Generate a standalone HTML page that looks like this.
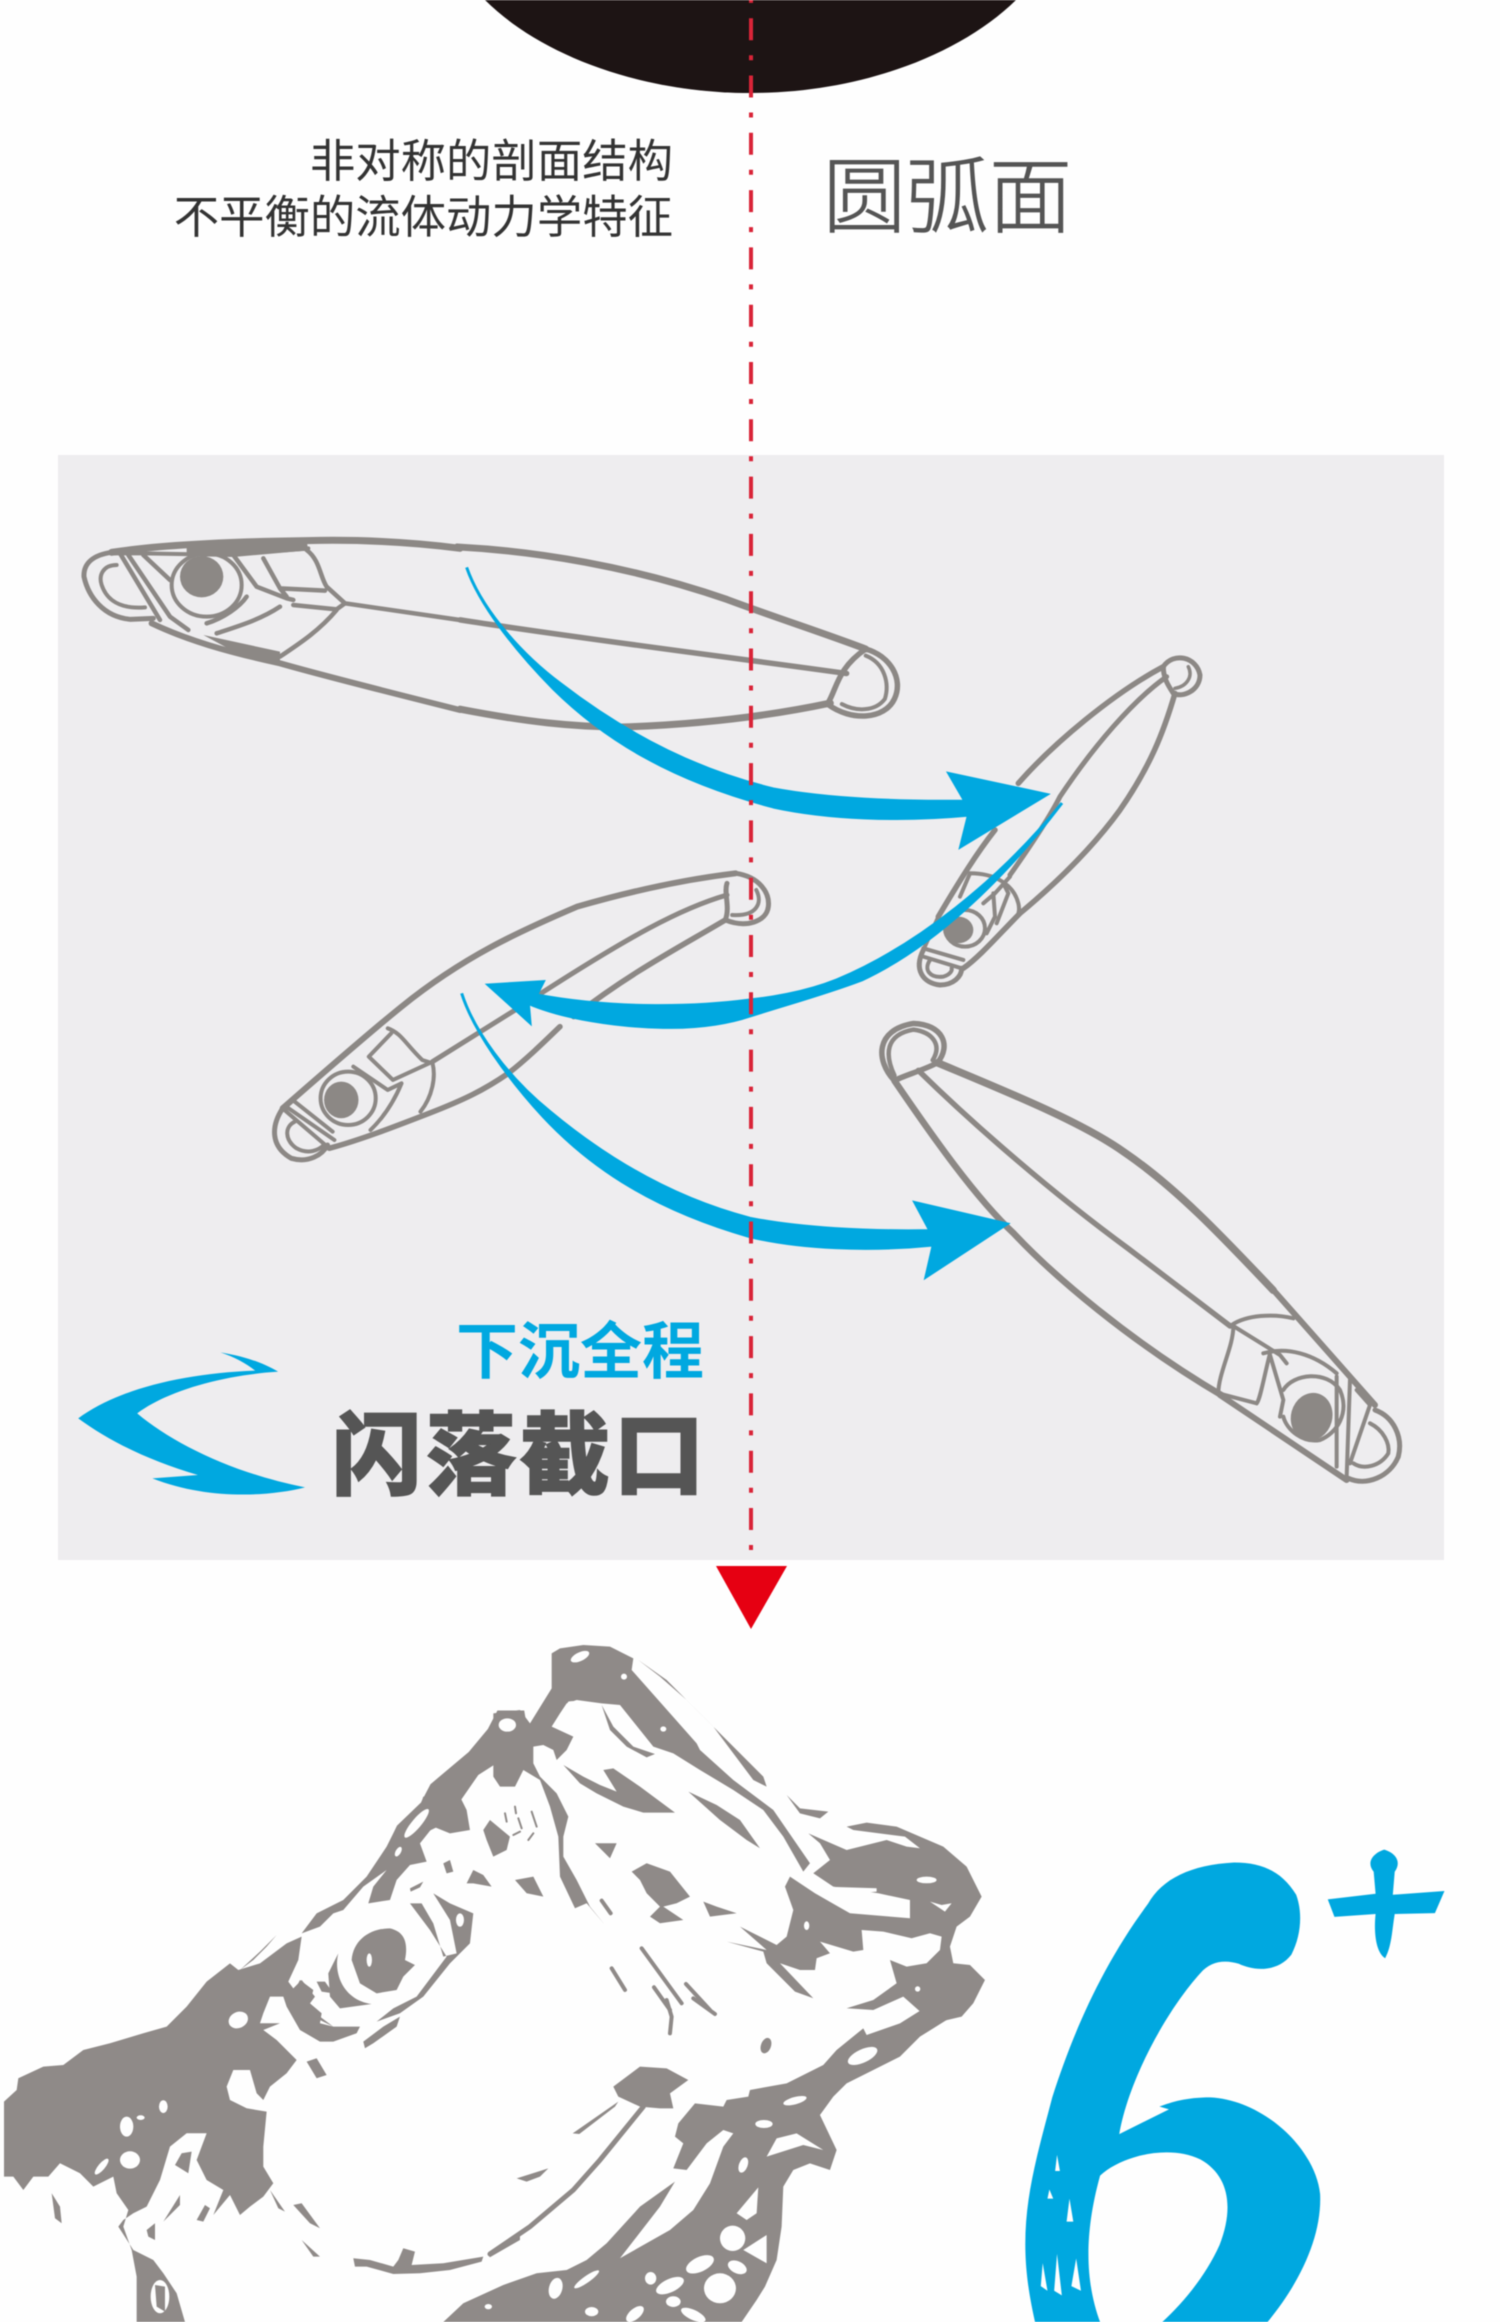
<!DOCTYPE html>
<html lang="zh"><head><meta charset="utf-8"><title>闪落截口</title>
<style>
html,body{margin:0;padding:0;background:#fefefe}
svg{display:block;filter:blur(.6px)}
path,ellipse,line{vector-effect:non-scaling-stroke}
.l path,.l ellipse{fill:none;stroke:#8c8885;stroke-linecap:round;stroke-linejoin:round}
.l .f{fill:#8c8885;stroke:none}
.fish path,.fish ellipse{fill:#8f8a88}
.fish .w{fill:#fefefe}
.fish .t{fill:none;stroke:#8f8a88;stroke-linecap:round}
text{font-family:"Liberation Sans","Noto Sans CJK SC",sans-serif}
</style></head><body>
<svg width="1500" height="2322" viewBox="0 0 1500 2322" xmlns="http://www.w3.org/2000/svg">
<rect width="1500" height="2322" fill="#fefefe"/>
<path d="M485 0C540 55 640 93 751 93 860 93 960 55 1016 0Z" fill="#1d1414"/>
<text x="673" y="177" text-anchor="end" font-size="45.4" fill="#333" font-weight="400">非对称的剖面结构</text>
<text x="673" y="233" text-anchor="end" font-size="45.4" fill="#333" font-weight="400">不平衡的流体动力学特征</text>
<text x="823" y="226" font-size="83" fill="#555" font-weight="300" stroke="#555" stroke-width=".8">圆弧面</text>
<rect x="58" y="455" width="1386" height="1105" fill="#eeedef"/>

<!-- lure 1 -->
<g class="l">
<g transform="translate(60,520) scale(.3333)">
<path style="stroke-width:5px" d="M155 97C100 105 70 130 72 170 85 230 130 290 210 298L280 295"/>
<path style="stroke-width:4px" d="M170 135C130 135 115 165 125 195 140 240 180 268 255 262"/>
<path style="stroke-width:7px" d="M155 97C300 75 500 65 740 62 880 58 1050 65 1200 85"/>
<path style="stroke-width:4px" d="M160 100L250 100 520 105 745 85"/>
<path class="f" d="M380 80L740 62 745 92 520 108 380 105Z"/>
<path style="stroke-width:4.5px" d="M180 100L300 300M205 105L330 290 385 330M250 105L330 180M520 105L590 200 680 235 700 240M610 115L660 205 680 230M740 90C780 120 780 170 800 200L855 250M660 205L795 212M700 255L830 268 855 250M855 250L1200 300M830 270C780 330 720 370 660 410M660 260C600 300 530 320 470 340M560 230C540 260 490 295 440 310"/>
<ellipse class="f" cx="425" cy="170" rx="65" ry="62"/>
<ellipse style="stroke-width:4px" cx="440" cy="195" rx="105" ry="95"/>
<path style="stroke-width:6px" d="M275 310C380 360 500 395 660 430 800 470 1000 520 1200 570"/>
<path class="f" d="M430 345L660 395 660 435 560 415Z"/>
</g>
<g transform="scale(.9566,.5102)">
<path style="stroke-width:7px" d="M478 1072C560 1080 660 1110 760 1175 810 1210 860 1240 905 1272"/>
<path style="stroke-width:7px" d="M481 1390C550 1415 600 1425 650 1425 730 1420 800 1405 868 1378"/>
<path style="stroke-width:5.5px" d="M481 1215C600 1250 750 1285 885 1320"/>
<path style="stroke-width:5.5px" d="M905 1272C875 1310 875 1350 865 1380 890 1415 925 1410 935 1370 945 1330 930 1285 905 1272"/>
<path style="stroke-width:4px" d="M905 1285C925 1300 930 1340 925 1370 915 1395 895 1395 880 1380"/>
</g>
<!-- lure 2 -->
<g transform="translate(880,640) scale(.3333)">
<path style="stroke-width:5.5px" d="M850 80C700 160 520 310 415 430M345 570C290 640 240 720 175 830"/>
<path style="stroke-width:5px" d="M860 110C760 180 640 320 540 470 510 530 450 620 390 705"/>
<path style="stroke-width:5.5px" d="M885 160C850 280 810 380 720 510 640 620 540 720 420 820 360 880 300 950 250 985"/>
<path style="stroke-width:5px" d="M850 80C880 35 950 50 960 105 960 150 910 175 880 160 860 130 850 110 850 80"/>
<path style="stroke-width:3.5px" d="M925 80C940 110 920 140 885 145"/>
<path style="stroke-width:4px" d="M270 700C340 700 400 730 415 790 420 810 415 825 410 830M270 700L240 770M390 710L345 760 310 790M370 730L385 760 350 850M340 760L345 830 320 880"/>
<ellipse class="f" cx="235" cy="870" rx="45" ry="40"/>
<ellipse style="stroke-width:4px" cx="255" cy="865" rx="60" ry="55"/>
<path style="stroke-width:5px" d="M130 930C100 990 130 1030 180 1035 220 1035 245 1010 245 985"/>
<path style="stroke-width:4px" d="M150 960C130 990 150 1015 190 1010 220 1000 215 985 215 985M130 925L250 960M175 830L130 930M130 950L245 985"/>
</g>
<!-- lure 3 -->
<g transform="translate(250,850) scale(.3444,.3333)">
<path style="stroke-width:6px" d="M1410 70C1250 90 1100 125 950 170 780 245 620 320 440 470 350 545 200 680 95 775"/>
<path style="stroke-width:5px" d="M1385 135C1250 175 1100 260 830 440M770 480L530 635"/>
<path style="stroke-width:5.5px" d="M1380 210C1250 290 1100 370 940 500M900 530C850 580 800 630 750 670 680 720 620 750 520 790 420 830 320 870 230 895"/>
<path style="stroke-width:5px" d="M1410 70C1480 80 1510 130 1505 170 1500 215 1440 235 1380 210 1395 170 1375 130 1385 100"/>
<path style="stroke-width:4px" d="M1470 120C1490 160 1470 200 1400 195"/>
<path style="stroke-width:4px" d="M400 535C440 550 450 580 500 630L530 640C540 680 530 740 495 785M345 620L410 550M345 620L415 690 520 640M300 650L400 720 440 700C420 750 390 800 350 840"/>
<ellipse class="f" cx="265" cy="750" rx="50" ry="55"/>
<ellipse style="stroke-width:4px" cx="285" cy="745" rx="80" ry="80"/>
<path style="stroke-width:5px" d="M95 775C60 830 60 890 120 925 170 940 210 915 225 885"/>
<path style="stroke-width:4px" d="M130 815C100 830 100 870 135 895 170 915 200 900 215 885M105 770L245 870M130 755L240 845M230 895L100 780"/>
</g>
<!-- lure 4 -->
<g transform="translate(0,800) scale(.9566,.5102)">
<path style="stroke-width:5.5px" d="M935 550C915 510 915 450 955 438 985 440 995 480 980 515 965 530 945 540 935 550"/>
<path style="stroke-width:4.5px" d="M935 540C925 500 925 460 955 450 975 455 985 480 975 510"/>
<path style="stroke-width:7.5px" d="M980 515C1050 570 1130 630 1175 690 1230 760 1280 860 1331 961"/>
<path style="stroke-width:5.5px" d="M960 530C1020 640 1100 770 1180 880L1286 1031"/>
<path style="stroke-width:6.5px" d="M935 550C975 660 1020 780 1060 850 1100 930 1180 1060 1280 1170"/>
</g>
<g transform="translate(1180,1290) scale(.3333)">
<path style="stroke-width:6px" d="M120 315L500 570M280 0L585 345"/>
<path style="stroke-width:4px" d="M155 105C200 75 280 70 340 85M155 105L300 195 320 220M160 110C160 170 115 250 115 310L230 340M270 190C250 270 240 330 230 340M250 190C320 170 400 190 470 250M270 195L310 330 300 380"/>
<ellipse class="f" cx="395" cy="380" rx="62" ry="72" transform="rotate(15 395 380)"/>
<path style="stroke-width:4px" d="M310 300C340 250 440 240 480 300 510 370 470 430 420 450 370 460 320 420 310 380M510 270L500 560M470 260L470 530M530 300L570 345 510 520"/>
<path style="stroke-width:5px" d="M585 360C640 380 670 440 655 500 630 560 560 590 505 565"/>
<path style="stroke-width:4px" d="M570 400C610 420 630 460 625 490 600 530 550 540 520 520"/>
</g>
</g>

<!-- arrows -->
<g fill="#00a8e0" stroke="#00a8e0" stroke-width="3" stroke-linejoin="miter">
<path transform="translate(467,567) scale(1.064,.985) translate(-462,-993) translate(450,980) scale(.3333)" d="M35 40C70 150 170 290 300 395 450 520 650 650 900 715 1050 745 1250 755 1440 752L1395 668 1671 732 1428 891 1450 795C1250 815 1050 805 900 770 620 690 430 570 280 410 170 290 70 150 35 40Z"/>
<g transform="translate(450,980) scale(.3333)">
<path d="M35 40C70 150 170 290 300 395 450 520 650 650 900 715 1050 745 1250 755 1440 752L1395 668 1671 732 1428 891 1450 795C1250 815 1050 805 900 770 620 690 430 570 280 410 170 290 70 150 35 40Z"/>
<path d="M1836 -531C1650 -300 1400 -100 1160 0 1060 40 950 55 900 60 750 80 500 90 260 45L280 5 115 15 240 128 235 70C340 115 500 140 640 142 760 145 850 125 900 108 1020 70 1130 40 1235 0 1450 -100 1660 -300 1836 -531Z"/>
</g>
</g>
<g transform="translate(60,1300) scale(.4337,.3333)" fill="#00a8e0">
<path d="M42 355C130 270 280 220 450 212 430 190 400 170 370 157 430 170 470 190 503 215 380 225 250 270 178 340 260 430 400 520 565 562 480 590 340 600 213 535L318 525C200 480 110 420 42 355Z"/>
</g>
<text x="704" y="1373" text-anchor="end" font-size="62" font-weight="700" fill="#00a8e0">下沉全程</text>
<text x="332" y="1487" font-size="90" font-weight="900" fill="#555" stroke="#555" stroke-width="1.5" textLength="372" lengthAdjust="spacing">闪落截口</text>

<line x1="751" y1="-39.1" x2="751" y2="1552" stroke="#d92438" stroke-width="4" stroke-dasharray="22 15 5 15.3"/>
<path d="M716 1566H787L751 1629Z" fill="#e60012"/>

<!-- fish -->
<g class="fish">
<g transform="translate(0,1600) scale(.9566,.4605)">
<path d="M520 240L548 240 552 290 530 340 500 380 480 440 440 440 450 400 490 330 510 280Z"/>
<ellipse class="w" cx="530" cy="265" rx="9" ry="18"/>
<path d="M440 440L480 440 470 480 430 520 400 560 415 490Z"/>
</g>
<g transform="translate(0,1800) scale(.3333)">
<path d="M12 905L50 870 55 835 130 800 190 795 250 750 330 730 430 700 500 680 560 620 620 545 690 490 715 510 780 490 860 430 905 410 895 480 865 545 880 565 905 540 945 590 930 610 965 640 960 670 1000 680 1080 680 1070 700 1000 725 960 725 900 690 860 620 850 590 810 590 790 640 780 670 840 670 790 690 830 720 890 780 860 820 810 860 790 900 770 880 750 810 700 810 680 860 690 900 740 925 800 935 790 1040 790 1100 820 1150 790 1190 750 1220 720 1245 690 1185 640 1245 670 1170 620 1140 590 1080 620 1000 560 1000 510 1040 480 1140 440 1220 400 1240 370 1260 355 1280 400 1350 460 1380 490 1420 530 1480 555 1566 410 1566 410 1430 395 1350 370 1280 385 1230 350 1180 340 1130 280 1160 240 1120 180 1090 145 1130 100 1130 70 1170 40 1130 12 1130Z"/>
<path d="M905 400L950 340 1030 300 1100 230 1160 140 1190 80 1260 20 1270 -10 1380 -10 1400 30 1410 90 1350 100 1300 80 1260 130 1280 185 1230 195 1190 240 1170 300 1105 310 1120 260 1160 210 1090 260 1030 330 1000 340 960 380Z"/>
<path d="M720 510L780 455 830 405 800 440 760 480Z"/>
<ellipse class="w" cx="715" cy="660" rx="30" ry="24" transform="rotate(-25 715 660)"/>
<ellipse class="w" cx="490" cy="920" rx="13" ry="19"/>
<ellipse class="w" cx="380" cy="980" rx="20" ry="30"/>
<ellipse class="w" cx="422" cy="953" rx="12" ry="7"/>
<ellipse class="w" cx="390" cy="1080" rx="30" ry="26"/>
<ellipse class="w" cx="305" cy="1100" rx="10" ry="30" transform="rotate(40 305 1100)"/>
<ellipse class="w" cx="1250" cy="70" rx="14" ry="55" transform="rotate(40 1250 70)"/>
<ellipse class="w" cx="1195" cy="155" rx="8" ry="16" transform="rotate(30 1195 155)"/>
<path d="M545 1060L575 1055 565 1120 525 1095Z"/>
<path d="M155 1180L180 1220 185 1270 165 1255Z"/>
<path d="M490 1265L540 1185 540 1215Z"/>
<path d="M590 1260L615 1215 630 1225 610 1265Z"/>
<path d="M880 1215L905 1210 960 1285 930 1270Z"/>
<path d="M905 1320L960 1370 940 1370Z"/>
<path d="M920 785L950 775 980 825 950 835Z"/>
<path d="M810 1170L855 1235 835 1225Z"/>
<path d="M440 1290L465 1270 465 1320 445 1310Z"/>
<ellipse class="w" cx="480" cy="1490" rx="28" ry="50"/>
<path d="M465 1455L495 1460 495 1535 470 1520Z"/>
<!-- eye -->
<path d="M1055 480C1060 420 1110 385 1170 385 1215 395 1225 430 1215 480L1245 495 1210 530 1190 570 1130 580 1080 550Z"/>
<ellipse class="w" cx="1108" cy="480" rx="8" ry="20"/>
<path d="M1015 460C1000 520 1030 600 1115 612L1020 625 990 590 985 520 1005 480Z"/>
<path d="M1230 310L1265 310 1300 370 1330 470 1370 460 1350 360 1300 280 1350 310 1420 340 1410 430 1350 490 1270 590 1200 640 1130 665 1180 625 1250 590 1340 470 1290 390Z"/>
<ellipse class="w" cx="1380" cy="360" rx="12" ry="20"/>
<ellipse class="w" cx="1342" cy="395" rx="8" ry="15"/>
<path d="M1095 745L1090 725 1150 680 1200 650 1190 680 1120 730Z"/>
<path d="M900 540L940 570 930 610 960 650 1000 680 960 660 900 630 870 600Z"/>
<path d="M950 545L975 545 1000 580 965 575Z"/>
<path d="M1230 265L1270 245 1260 262 1232 275Z"/>
<path d="M1400 250L1420 210 1450 225 1475 260 1420 250Z"/>
<path d="M1330 190L1350 180 1360 215 1340 220Z"/>
<path d="M1450 90L1470 60 1530 110 1520 150 1480 170 1460 120Z"/>
<!-- smile -->
<path d="M1060 1375L1110 1380 1180 1400 1195 1380 1210 1345 1245 1355 1235 1395 1330 1390 1450 1370 1445 1385 1350 1410 1260 1420 1180 1422 1100 1400 1065 1400Z"/>
<path d="M1462 1362L1560 1305 1560 1320 1470 1372Z"/>
</g>
<g transform="translate(500,1630) scale(.3333)">
<path d="M155 70L180 55 250 45 330 50 400 85 395 120 590 340 600 360 700 450 820 540 930 700 910 725 850 620 790 540 700 480 600 420 520 370 460 350 360 225 305 220 230 210 200 220 180 250 155 290 220 320 200 360 170 390 160 360 130 345 100 350 100 400 120 440 170 490 205 560 190 620 190 680 230 750 270 830 315 885 260 820 225 835 180 740 175 620 150 530 120 450 70 420 45 470 0 470 -20 440 -20 250 60 240 90 280 155 175Z"/>
<path d="M415 90L500 150 600 250 700 350 790 440 800 470 760 450 700 370 640 290 560 210 480 140Z"/>
<path d="M305 225L340 290 400 350 465 372 440 382 380 350 330 300Z"/>
<ellipse class="w" cx="240" cy="80" rx="30" ry="13" transform="rotate(-25 240 80)"/>
<ellipse class="w" cx="372" cy="140" rx="9" ry="9"/>
<ellipse class="w" cx="490" cy="297" rx="9" ry="8"/>
<ellipse class="w" cx="22" cy="285" rx="26" ry="20"/>
<path class="w" d="M205 215C240 205 265 240 260 270L200 280 190 240Z"/>
<path d="M190 405L250 440 300 465 350 485 310 420 340 415 420 470 525 548 430 548 370 530 290 490 240 460Z"/>
<path d="M565 485L650 525 720 570 780 655 740 630 660 570Z"/>
<path d="M860 495L900 535 985 545 960 565 900 550Z"/>
<path d="M395 725L440 700 510 725 570 800 530 820 490 830 550 870 480 880 450 860 480 830 440 790 420 750Z"/>
<path d="M610 815L650 830 710 850 630 860Z"/>
<path d="M45 750L100 740 130 800 80 790Z"/>
<path d="M285 640L350 640 330 685Z"/>
<path d="M0 610L25 630 0 670Z"/>
<path class="t" style="stroke-width:4px" d="M335 1015L375 1080M425 955L545 1120M558 1062L630 1140M462 1072L510 1140M305 812L332 850"/>
<path class="t" style="stroke-width:2px" d="M15 550L20 575M45 530L48 550M55 565L65 595M95 545L110 590M85 630L100 610M40 615L60 605"/>
<path d="M925 610L1040 660 1160 630 1220 650 1260 655 1215 620 1060 600 1040 590 1100 578 1190 590 1330 650 1400 710 1445 800 1410 860 1370 890 1350 950 1360 1000 1410 1005 1455 1050 1420 1120 1385 1160 1300 1180 1210 1100 1120 1140 1040 1135 1120 1110 1190 1060 1170 990 1220 1010 1280 1000 1320 960 1325 920 1290 910 1235 925 1150 905 1085 900 1090 960 1060 965 960 935 990 970 950 985 945 1020 900 1020 840 1000 940 1105 885 1085 800 1000 790 965 680 935 800 960 720 890 830 945 860 920 880 840 855 770 870 740 945 790 1050 850 1230 865 1230 810 1135 790 1000 770 940 730 990 690 960 640Z"/>
<ellipse class="w" cx="1280" cy="750" rx="30" ry="10"/>
<path class="w" d="M1290 815L1325 825 1355 820 1335 845Z"/>
<ellipse class="w" cx="1253" cy="1077" rx="8" ry="8"/>
<ellipse class="w" cx="920" cy="887" rx="8" ry="13"/>
<path class="w" d="M970 770L1130 775 1130 785 1030 795Z"/>
</g>
<g transform="translate(380,2000) scale(.3333)">
<path d="M1450 85L1460 105 1560 70 1640 20 1700 -20 1750 -20 1700 60 1620 110 1560 170 1400 250 1360 290 1320 345 1370 450 1350 510 1290 490 1240 510 1210 560 1205 680 1190 780 1155 860 1130 900 1085 966 190 966 250 910 370 855 470 820 560 810 620 780 680 730 780 620 885 545 840 620 720 775 870 690 940 630 990 550 1030 440 1060 400 1030 390 980 430 920 510 880 505 910 430 885 410 895 370 945 310 1030 320 1040 300 1105 290 1110 270 1220 250 1330 195 1370 150Z"/>
<ellipse class="w" cx="1448" cy="168" rx="48" ry="20" transform="rotate(-25 1448 168)"/>
<ellipse class="w" cx="1245" cy="302" rx="36" ry="11" transform="rotate(-15 1245 302)"/>
<ellipse class="w" cx="1152" cy="372" rx="26" ry="12"/>
<path class="w" d="M1160 470L1190 415 1250 400 1330 450 1270 435Z"/>
<ellipse class="w" cx="1090" cy="495" rx="13" ry="24" transform="rotate(20 1090 495)"/>
<path class="w" d="M1070 640L1135 562 1130 640 1100 660Z"/>
<ellipse class="w" cx="1058" cy="715" rx="38" ry="38"/>
<path class="w" d="M1090 750L1160 705 1160 790Z"/>
<ellipse class="w" cx="960" cy="793" rx="45" ry="22" transform="rotate(-25 960 793)"/>
<ellipse class="w" cx="1072" cy="802" rx="30" ry="18" transform="rotate(25 1072 802)"/>
<ellipse class="w" cx="812" cy="835" rx="17" ry="19"/>
<ellipse class="w" cx="870" cy="857" rx="45" ry="20" transform="rotate(-25 870 857)"/>
<ellipse class="w" cx="1020" cy="865" rx="48" ry="45"/>
<ellipse class="w" cx="880" cy="905" rx="22" ry="16"/>
<ellipse class="w" cx="527" cy="865" rx="20" ry="32" transform="rotate(15 527 865)"/>
<ellipse class="w" cx="620" cy="838" rx="45" ry="10" transform="rotate(-35 620 838)"/>
<ellipse class="w" cx="635" cy="935" rx="20" ry="14"/>
<ellipse class="w" cx="765" cy="942" rx="32" ry="16" transform="rotate(-40 765 942)"/>
<ellipse class="w" cx="940" cy="945" rx="40" ry="15" transform="rotate(25 940 945)"/>
<ellipse class="w" cx="325" cy="920" rx="11" ry="8"/>
<path d="M700 260L780 200 860 205 925 240 870 280 880 325 840 325 780 320 715 290Z"/>
<path d="M715 305L578 400 598 402 705 320Z"/>
<path class="t" style="stroke-width:5px" d="M790 320L660 480 580 570 450 680 330 762"/>
<path d="M410 535L505 505 480 530 440 545Z"/>
<ellipse cx="1158" cy="137" rx="15" ry="24" transform="rotate(20 1158 137)"/>
<path class="t" style="stroke-width:4px" d="M860 0L875 50 870 100M940 -5L1005 42"/>
</g>
</g>
<!-- 6+ -->
<g transform="translate(0,1600) scale(.9566,.4605)">
<path fill="#00a8e0" d="M1290 570C1245 575 1215 605 1200 660 1150 800 1120 950 1100 1080 1085 1200 1070 1300 1072 1420 1073 1480 1078 1530 1082 1568L1150 1568C1138 1500 1130 1400 1150 1250 1170 1210 1220 1180 1255 1215 1285 1250 1290 1320 1275 1400 1260 1470 1235 1530 1215 1568L1325 1568C1360 1480 1382 1380 1380 1290 1375 1190 1320 1085 1265 1080 1240 1080 1225 1090 1212 1100L1222 1106 1170 1160C1180 1040 1220 890 1255 810 1265 785 1280 780 1295 790 1310 805 1335 810 1350 770 1360 730 1362 680 1355 640 1340 590 1320 570 1290 570Z"/>
<path fill="#00a8e0" d="M1447 542C1460 550 1465 570 1458 590L1456 640 1510 632 1500 680 1458 682C1455 720 1455 750 1448 778 1438 765 1436 720 1438 682L1395 688 1388 650 1438 638 1436 590C1428 570 1435 550 1447 542Z"/>
<path fill="#fefefe" d="M1105 1205L1108 1240 1103 1240ZM1097 1280L1101 1300 1095 1300ZM1118 1300L1122 1350 1115 1350ZM1090 1440L1095 1500 1088 1490ZM1105 1420L1110 1510 1102 1500ZM1125 1430L1130 1500 1120 1490Z"/>
</g>
</svg>
</body></html>
